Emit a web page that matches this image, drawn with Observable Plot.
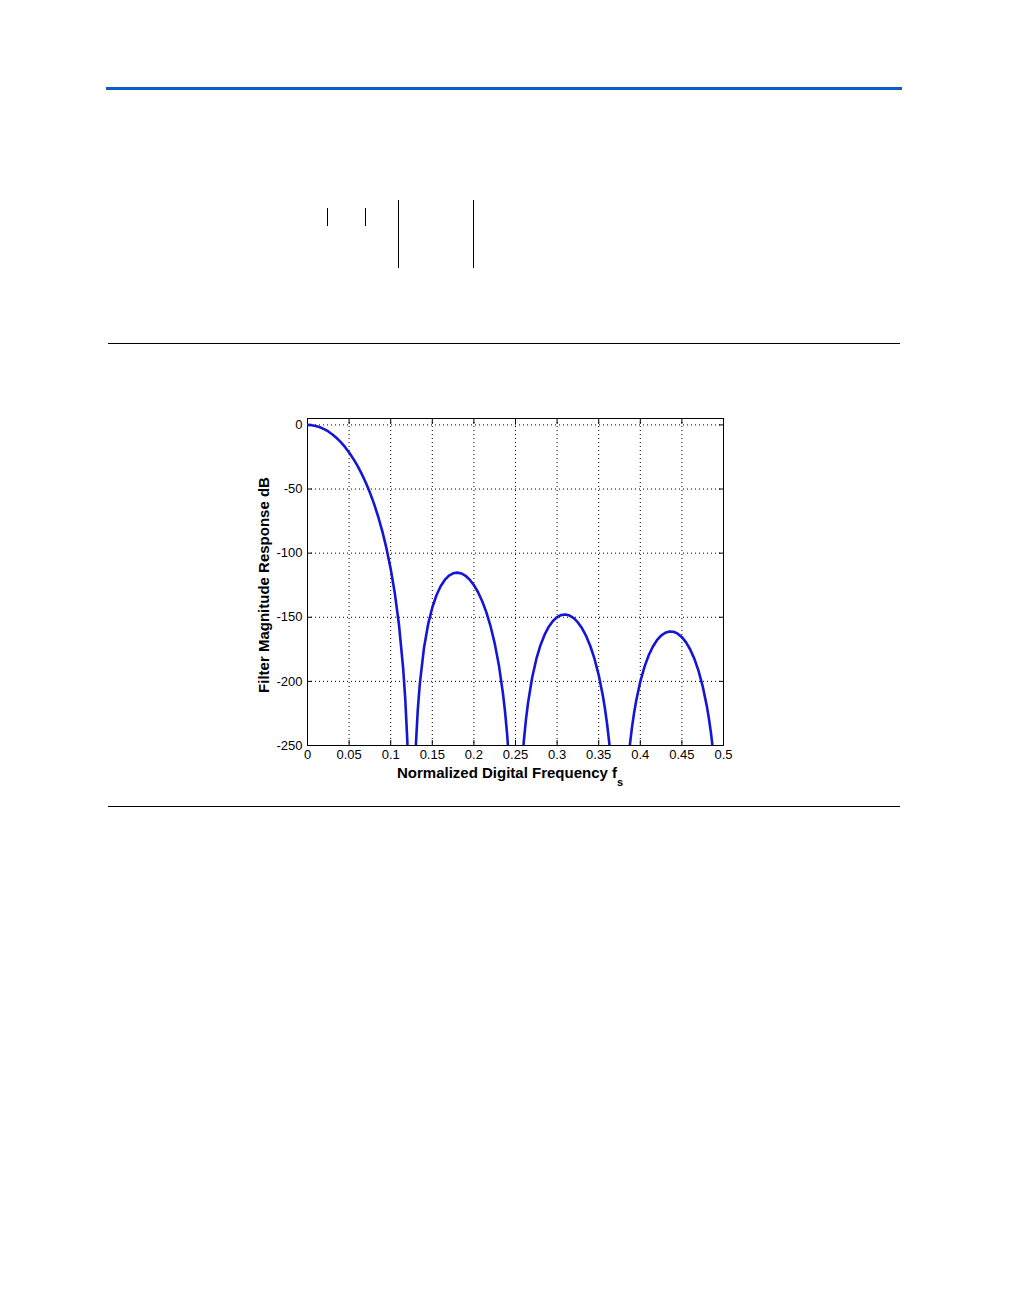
<!DOCTYPE html>
<html>
<head>
<meta charset="utf-8">
<script src="https://cdn.jsdelivr.net/npm/d3@7"></script>
<script src="https://cdn.jsdelivr.net/npm/@observablehq/plot@0.6"></script>
<style>
  html, body { margin: 0; padding: 0; background: #fff; }
  #page { position: relative; width: 1009px; height: 1297px; background: #fff; overflow: hidden; font-family: "Liberation Sans", Arial, sans-serif; }
  .deco { position: absolute; background: #000; }
  #chart { position: absolute; left: 230px; top: 400px; }
  .axlabel { position: absolute; font-weight: bold; font-size: 15px; line-height: 15px; white-space: nowrap; color: #000; }
</style>
</head>
<body>
<div id="page">
  <div class="deco" style="left:106px; top:87px; width:796px; height:3px; background:#0a5ec8;"></div>
  <div class="deco" style="left:327px; top:208px; width:1px; height:18px;"></div>
  <div class="deco" style="left:365px; top:208px; width:1px; height:18px;"></div>
  <div class="deco" style="left:398px; top:200px; width:1px; height:68px;"></div>
  <div class="deco" style="left:473px; top:200px; width:1px; height:68px;"></div>
  <div class="deco" style="left:108px; top:343px; width:792px; height:1px;"></div>
  <div class="deco" style="left:108px; top:806px; width:792px; height:1px;"></div>
  <div id="chart"></div>
  <div class="axlabel" style="left:397px; top:765px;">Normalized Digital Frequency f<span style="font-size:11px; position:relative; top:8px;">s</span></div>
  <div class="axlabel" style="left:263px; top:585px; transform: translate(-50%,-50%) rotate(-90deg);">Filter Magnitude Response dB</div>
</div>
<script>
const freq = [
  0, 0.005, 0.01, 0.015, 0.02, 0.025, 0.03, 0.035, 0.04, 0.045,
  0.05, 0.055, 0.06, 0.065, 0.07, 0.075, 0.08, 0.085, 0.09, 0.095,
  0.1, 0.105, 0.11, 0.115, 0.1175, 0.12, 0.1225, 0.1275, 0.13, 0.1325,
  0.135, 0.14, 0.145, 0.15, 0.155, 0.16, 0.165, 0.17, 0.175, 0.18,
  0.185, 0.19, 0.195, 0.2, 0.205, 0.21, 0.215, 0.22, 0.225, 0.23,
  0.235, 0.2375, 0.24, 0.2425, 0.2575, 0.26, 0.2625, 0.265, 0.27, 0.275,
  0.28, 0.285, 0.29, 0.295, 0.3, 0.305, 0.31, 0.315, 0.32, 0.325,
  0.33, 0.335, 0.34, 0.345, 0.35, 0.355, 0.3575, 0.36, 0.3625, 0.365,
  0.37, 0.38, 0.385, 0.3875, 0.39, 0.3925, 0.395, 0.4, 0.405, 0.41,
  0.415, 0.42, 0.425, 0.43, 0.435, 0.44, 0.445, 0.45, 0.455, 0.46,
  0.465, 0.47, 0.475, 0.48, 0.4825, 0.485, 0.4875, 0.49, 0.495
];
const magnitudeDb = [
  0, -0.20, -0.81, -1.83, -3.27, -5.13, -7.44, -10.20, -13.44, -17.18,
  -21.46, -26.32, -31.80, -37.98, -44.93, -52.75, -61.60, -71.63, -83.14, -96.50,
  -112.29, -131.53, -156.05, -190.04, -213.78, -246.79, -302.3, -305.3, -252.72, -222.68,
  -201.93, -173.93, -155.46, -142.36, -132.81, -125.84, -120.88, -117.59, -115.73, -115.18,
  -115.84, -117.68, -120.69, -124.94, -130.50, -137.51, -146.22, -156.98, -170.36, -187.32,
  -209.72, -224.07, -241.71, -264.49, -268.17, -246.63, -230.21, -217.10, -197.17, -182.68,
  -171.81, -163.56, -157.37, -152.90, -149.91, -148.26, -147.87, -148.69, -150.72, -154.02,
  -158.65, -164.78, -172.61, -182.52, -195.08, -211.24, -221.19, -232.86, -246.83, -264.09,
  -318.2, -319.2, -266.12, -249.37, -235.91, -224.76, -215.32, -200.17, -188.65, -179.77,
  -172.96, -167.88, -164.28, -162.04, -161.07, -161.31, -162.78, -165.50, -169.59, -175.16,
  -182.46, -191.84, -203.86, -219.50, -229.18, -240.59, -254.30, -271.30, -324.9
];
const xTicks = [0, 0.05, 0.1, 0.15, 0.2, 0.25, 0.3, 0.35, 0.4, 0.45, 0.5];
const yTicks = [0, -50, -100, -150, -200, -250];
const xDomain = [0, 0.5];
const yDomain = [-250, 5];

const data = freq.map((f, i) => ({f, db: magnitudeDb[i]}));
const gridStyle = {stroke: "black", strokeOpacity: 1, strokeWidth: 1, strokeDasharray: "1,3"};

const chart = Plot.plot({
  width: 510,
  height: 400,
  marginLeft: 77,
  marginRight: 17,
  marginTop: 18,
  marginBottom: 55,
  x: {domain: xDomain},
  y: {domain: yDomain},
  style: {fontFamily: '"Liberation Sans", Arial, sans-serif', fontSize: "13px", color: "black", background: "white", overflow: "visible"},
  marks: [
    Plot.gridX(xTicks, gridStyle),
    Plot.gridY(yTicks, gridStyle),
    Plot.frame({stroke: "black", strokeWidth: 1}),
    Plot.axisX(xTicks, {anchor: "bottom", tickSize: -5, tickPadding: 9, tickFormat: d => String(+d.toFixed(2)), label: null}),
    Plot.axisX(xTicks, {anchor: "top", tickSize: -5, tickFormat: () => "", label: null}),
    Plot.axisY(yTicks, {anchor: "left", tickSize: -5, tickPadding: 10, tickFormat: d => String(d), label: null}),
    Plot.axisY(yTicks, {anchor: "right", tickSize: -5, tickFormat: () => "", label: null}),
    Plot.line(data, {x: "f", y: "db", stroke: "#1515d5", strokeWidth: 2.6, clip: true})
  ]
});
document.getElementById("chart").appendChild(chart);
</script>
</body>
</html>
